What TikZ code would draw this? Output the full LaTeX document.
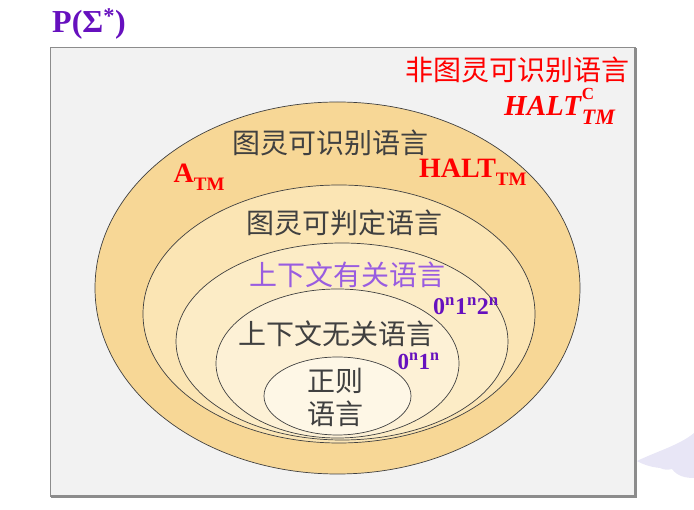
\documentclass[tikz,border=0pt]{standalone}
\usepackage{fontspec}
\setmainfont{Liberation Serif}
\newfontfamily\cjk{Noto Sans CJK SC}
\definecolor{FrameFill}{RGB}{242,242,242}
\definecolor{FrameLine}{RGB}{140,140,140}
\definecolor{RecogColor}{RGB}{247,215,150}
\definecolor{DecidColor}{RGB}{251,229,180}
\definecolor{CSLColor}{RGB}{252,236,198}
\definecolor{CFLColor}{RGB}{253,241,214}
\definecolor{RegColor}{RGB}{254,247,230}
\definecolor{TextGray}{RGB}{64,64,64}
\definecolor{LabelRed}{RGB}{255,0,0}
\definecolor{DeepPurple}{RGB}{102,16,190}
\definecolor{LightPurple}{RGB}{153,92,224}
\definecolor{CloudColor}{RGB}{232,230,246}
\usepackage{tikz}
\usetikzlibrary{positioning}
\newcommand{\lowsub}[1]{\raisebox{-0.28em}{\fontsize{19}{19}\selectfont #1}}
\tikzset{
  region/.style={draw=black!75, line width=0.7pt},
  langname/.style={font=\cjk\fontsize{28}{33}\selectfont, text=TextGray, inner sep=0pt},
  redmark/.style={font=\bfseries\fontsize{28}{30}\selectfont, text=LabelRed, inner sep=0pt},
  example/.style={font=\bfseries\fontsize{24}{26}\selectfont, text=DeepPurple, inner sep=0pt}
}

\begin{document}
\begin{tikzpicture}[x=1pt, y=-1pt]
  \useasboundingbox (0,0) rectangle (694,510);

  % Background cloud
  \fill[CloudColor] (637,461) .. controls (655,452) and (680,445) .. (694,433) -- (694,478)
    .. controls (685,478) and (677,476) .. (672,469)
    .. controls (668,470) and (664,470) .. (660,468)
    .. controls (650,467) and (642,464) .. (637,461) -- cycle;

  % Universe P(Sigma*)
  \filldraw[fill=FrameFill, draw=FrameLine, line width=0.8pt] (50,47) rectangle (635,496);
  \draw[FrameLine, line width=2.4pt] (635.5,48) -- (635.5,496.5) -- (51,496.5);
  \node[anchor=base west, inner sep=0pt, text=DeepPurple, font=\bfseries\fontsize{32}{34}\selectfont] (universe) at (52,33) {P(Σ\textsuperscript{*})};

  % Nested language classes
  \filldraw[region, fill=RecogColor] (337.5,288) ellipse [x radius=242.5, y radius=186];
  \filldraw[region, fill=DecidColor] (339,314) ellipse [x radius=196, y radius=129];
  \filldraw[region, fill=CSLColor] (342,341.5) ellipse [x radius=166, y radius=98.5];
  \filldraw[region, fill=CFLColor] (337.5,363.5) ellipse [x radius=121.5, y radius=74.5];
  \filldraw[region, fill=RegColor] (337.5,396) ellipse [x radius=73.5, y radius=39];

  % Non-recognizable
  \node[langname, text=LabelRed, anchor=east] (nonrecog) at (630,70) {非图灵可识别语言};
  \node[redmark, anchor=base west, font=\bfseries\fontsize{29}{30}\selectfont] (haltc) at (504,116)
    {\textit{HALT}\rlap{\raisebox{0.58em}{\fontsize{17}{17}\selectfont C}}\raisebox{-0.3em}{\fontsize{22}{22}\selectfont\textit{TM}}};

  % Recognizable
  \node[langname] (recog) at (330.5,143) {图灵可识别语言};
  \node[redmark, anchor=base west] (atm) at (173.5,183) {A\lowsub{TM}};
  \node[redmark, anchor=base west] (halt) at (419,178) {HALT\lowsub{TM}};

  % Decidable
  \node[langname] (decid) at (344.5,223) {图灵可判定语言};

  % Context-sensitive
  \node[langname, text=LightPurple] (csl) at (347.5,274.5) {上下文有关语言};
  \node[example, anchor=base west] (abc) at (433,315) {0\textsuperscript{n}1\textsuperscript{n}2\textsuperscript{n}};

  % Context-free
  \node[langname, text depth=0pt, anchor=base] (cfl) at (336,345) {上下文无关语言};
  \node[example, font=\bfseries\fontsize{23}{25}\selectfont, anchor=base west] (ab) at (397.5,369.5) {0\textsuperscript{n}1\textsuperscript{n}};

  % Regular
  \node[langname, align=center] (reg) at (335,397) {正则\\语言};
\end{tikzpicture}
\end{document}
